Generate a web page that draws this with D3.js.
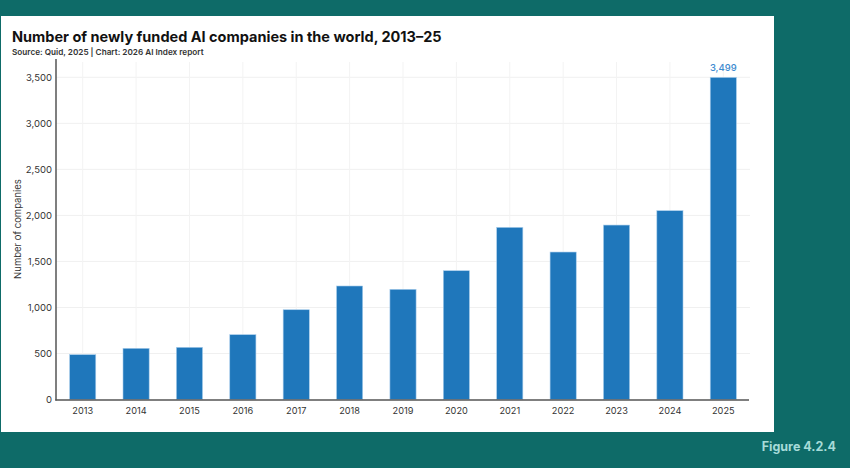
<!DOCTYPE html>
<html>
<head>
<meta charset="utf-8">
<script src="https://cdn.jsdelivr.net/npm/d3@7"></script>
<style>
  body { margin: 0; background: #0e6b68; }
  svg { display: block; font-family: Inter, "Noto Sans", sans-serif; }
</style>
</head>
<body>
<div id="chart"></div>
<script>
// values
const years = ['2013', '2014', '2015', '2016', '2017', '2018', '2019', '2020', '2021', '2022', '2023', '2024', '2025'];
const companies = [487, 556, 567, 704, 975, 1233, 1197, 1399, 1870, 1602, 1895, 2051, 3499];
const yTicks = [0, 500, 1000, 1500, 2000, 2500, 3000, 3500];

const width = 850;
const height = 468;
const data = years.map((y, i) => ({ year: y, value: companies[i] }));

const svg = d3.select('#chart').append('svg').attr('width', width).attr('height', height);

// teal page + white card
svg.append('rect').attr('width', width).attr('height', height).attr('fill', '#0e6b68');
svg.append('rect').attr('x', 1).attr('y', 16).attr('width', 773).attr('height', 416).attr('fill', '#fff');

const x = d3.scaleBand().domain(years).range([56, 750]).paddingInner(0.51).paddingOuter(0.255);
const y = d3.scaleLinear().domain([0, 3500]).range([399.5, 77.3]);

// faint grid
svg.append('g').selectAll('line').data(yTicks.slice(1)).enter().append('line')
  .attr('x1', 56).attr('x2', 750)
  .attr('y1', (d) => y(d)).attr('y2', (d) => y(d))
  .attr('stroke', '#f0f0f0');
svg.append('g').selectAll('line').data(years).enter().append('line')
  .attr('x1', (d) => x(d) + x.bandwidth() / 2).attr('x2', (d) => x(d) + x.bandwidth() / 2)
  .attr('y1', 62).attr('y2', 399.5)
  .attr('stroke', '#f3f3f3');

// bars
svg.append('g').selectAll('rect').data(data).enter().append('rect')
  .attr('x', (d) => x(d.year))
  .attr('y', (d) => y(d.value))
  .attr('width', x.bandwidth())
  .attr('height', (d) => y(0) - y(d.value))
  .attr('fill', '#1f77bb')
  .attr('stroke', '#a9cdec')
  .attr('stroke-width', 0.6);

// label on the last bar only
const last = data[data.length - 1];
svg.append('text')
  .attr('x', x(last.year) + x.bandwidth() / 2)
  .attr('y', y(last.value) - 6)
  .attr('text-anchor', 'middle')
  .attr('font-size', 9.5)
  .attr('font-weight', 500)
  .attr('fill', '#3d8bd0')
  .text(d3.format(',')(last.value));

// axes
const yAxis = svg.append('g').attr('transform', 'translate(56,0)')
  .call(d3.axisLeft(y).tickValues(yTicks).tickFormat(d3.format(',')).tickSize(0).tickPadding(4));
yAxis.select('.domain').remove();
yAxis.selectAll('text').attr('font-size', 9.5).attr('fill', '#333').attr('font-family', 'Inter, sans-serif');

const xAxis = svg.append('g').attr('transform', 'translate(0,400)')
  .call(d3.axisBottom(x).tickSize(0).tickPadding(7));
xAxis.select('.domain').remove();
xAxis.selectAll('text').attr('font-size', 9.2).attr('fill', '#333').attr('font-family', 'Inter, sans-serif');

svg.append('line').attr('x1', 56).attr('x2', 56).attr('y1', 59).attr('y2', 400.5)
  .attr('stroke', '#555').attr('stroke-width', 1.5);
svg.append('line').attr('x1', 55.3).attr('x2', 749).attr('y1', 400).attr('y2', 400)
  .attr('stroke', '#555').attr('stroke-width', 1.5);

// axis title
svg.append('text')
  .attr('transform', 'translate(21,229) rotate(-90)')
  .attr('text-anchor', 'middle')
  .attr('font-size', 9.5)
  .attr('fill', '#333')
  .text('Number of companies');

// titles
svg.append('text').attr('x', 12).attr('y', 42)
  .attr('font-size', 14.5).attr('font-weight', 700).attr('fill', '#111')
  .text('Number of newly funded AI companies in the world, 2013–25');
svg.append('text').attr('x', 12).attr('y', 55)
  .attr('font-size', 8.2).attr('font-weight', 600).attr('fill', '#333')
  .text('Source: Quid, 2025 | Chart: 2026 AI Index report');

svg.append('text').attr('x', 836).attr('y', 451)
  .attr('text-anchor', 'end')
  .attr('font-size', 12.5).attr('font-weight', 700).attr('fill', '#a6dbd8')
  .text('Figure 4.2.4');
</script>
</body>
</html>
